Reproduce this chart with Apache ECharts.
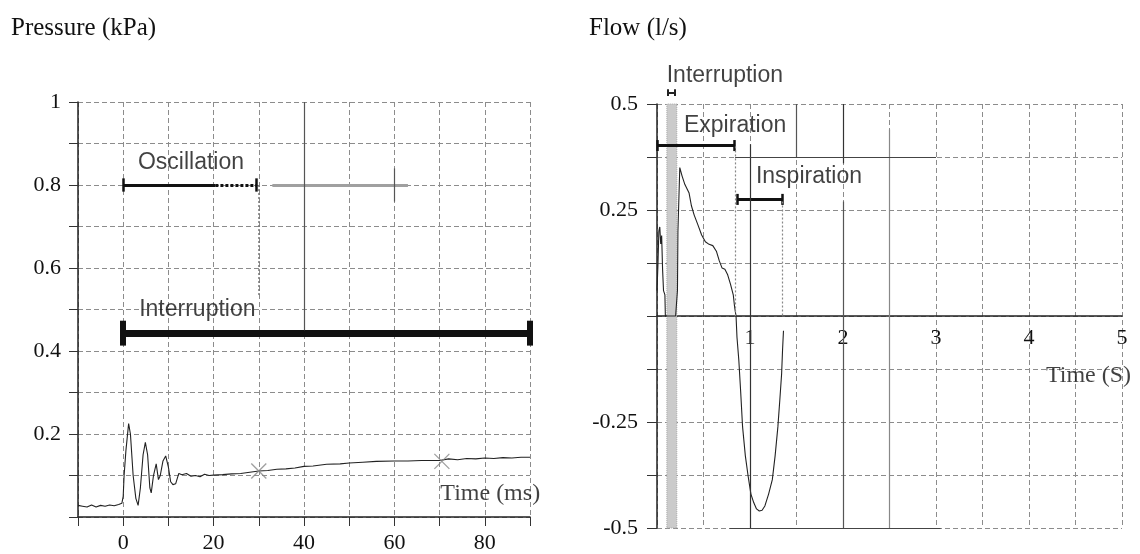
<!DOCTYPE html>
<html>
<head>
<meta charset="utf-8">
<script src="https://cdn.jsdelivr.net/npm/echarts@6/dist/echarts.min.js"></script>
<style>
html,body{margin:0;padding:0;background:#fff;}
#c{width:1140px;height:554px;}
</style>
</head>
<body>
<div id="c"></div>
<script>
// ---------- Left panel: pressure (kPa) vs time (ms) ----------
const pressureTime = [-10,-9,-8,-7,-6,-5,-4,-3,-2,-1,-0.3,0,0.2,0.6,1.2,1.6,2.2,2.8,3.3,3.8,4.4,4.9,5.4,5.9,6.2,6.7,7.3,7.8,8.2,8.8,9.4,10,10.5,11,11.6,12.3,13,14,15,16,17,18,19,20,22,24,26,28,30,32,34,36,38,40,42,45,48,50,53,56,60,63,66,70,72,74,76,78,80,82,84,86,88,90];
const pressureValue = [0.028,0.026,0.024,0.029,0.024,0.028,0.026,0.029,0.027,0.03,0.033,0.05,0.1,0.16,0.225,0.2,0.1,0.045,0.028,0.07,0.15,0.18,0.15,0.07,0.058,0.1,0.128,0.09,0.1,0.135,0.147,0.12,0.085,0.078,0.08,0.105,0.102,0.105,0.098,0.1,0.097,0.103,0.1,0.101,0.102,0.104,0.105,0.108,0.111,0.112,0.115,0.116,0.118,0.122,0.123,0.127,0.128,0.13,0.132,0.134,0.135,0.135,0.136,0.136,0.14,0.138,0.141,0.14,0.142,0.141,0.143,0.142,0.144,0.144];
const pressureMarkers = [[30,0.111],[70.5,0.134]];
const pressureXTicks = [0,20,40,60,80];
const pressureYTicks = [0.2,0.4,0.6,0.8,1];

// annotation bars (time ms, kPa)
const oscY = 0.8, oscStart = 0, oscSolidEnd = 20.4, oscEnd = 29.5;
const oscGhost = [33, 63];
const intY = 0.443, intStart = 0, intEnd = 90;
const leftGuides = [[30, 0.8, 30, 0.53]];
const leftDark = [[40, 1.0, 40, 0.45], [60, 0.84, 60, 0.76]];
const leftTexts = [["Oscillation", 15.0, 0.854], ["Interruption", 16.4, 0.499]];
const leftAxisText = ["Time (ms)", 81.2, 0.057];

// ---------- Right panel: flow (l/s) vs time (s) ----------
const flowTime = [0,0.01,0.02,0.03,0.04,0.05,0.06,0.07,0.085,0.09,0.1,0.2,0.22,0.225,0.245,0.27,0.3,0.345,0.37,0.4,0.44,0.48,0.52,0.56,0.6,0.64,0.67,0.7,0.73,0.76,0.79,0.82,0.835,0.85,0.86,0.88,0.9,0.92,0.95,0.98,1.01,1.04,1.07,1.1,1.13,1.16,1.2,1.24,1.27,1.3,1.32,1.34,1.35,1.36];
const flowValue = [0.06,0.12,0.2,0.21,0.17,0.19,0.11,0.06,0.05,0,0,0,0.06,0.2,0.35,0.33,0.31,0.29,0.26,0.238,0.215,0.191,0.175,0.169,0.166,0.152,0.13,0.113,0.11,0.097,0.075,0.05,0.02,0,-0.05,-0.105,-0.18,-0.261,-0.33,-0.378,-0.42,-0.44,-0.455,-0.46,-0.458,-0.448,-0.42,-0.386,-0.33,-0.261,-0.2,-0.136,-0.08,-0.035];
const flowXTicks = [1,2,3,4,5];
const flowYTicks = [-0.5,-0.25,0.25,0.5];

const bandFrom = 0.106, bandTo = 0.213;
const intMarkY = 0.527, intMarkFrom = 0.12, intMarkTo = 0.19;
const expY = 0.402, expFrom = 0.004, expTo = 0.835;
const inspY = 0.275, inspFrom = 0.868, inspTo = 1.347;
const rightGuides = [[0.84, 0.4, 0.84, 0], [1.35, 0.27, 1.35, 0]];
const rightDark = [[1, 0.405, 1, -0.5, '#333'], [1.5, 0.5, 1.5, 0.375, '#555'], [2, 0.5, 2, 0.36, '#333'], [2, 0.27, 2, -0.5, '#555'], [2.5, 0.44, 2.5, -0.5, '#888'], [0.84, 0.375, 3, 0.375, '#444'], [0.78, -0.5, 3.05, -0.5, '#444']];
const rightTexts = [["Interruption", 0.73, 0.568], ["Expiration", 0.84, 0.45], ["Inspiration", 1.634, 0.328]];
const rightAxisText = ["Time (S)", 4.64, -0.14];

// ---------- build ----------
const near = (v, arr) => arr.some(t => Math.abs(v - t) < 1e-9);
const serif = 'Liberation Serif';
const sans = 'Liberation Sans';
const ink = '#111';
const gridLine = {show: true, lineStyle: {color: '#8c8c8c', type: [5, 3], width: 1}};
const rightGridHeight = 424;

function seg(x1, y1, x2, y2, color, width, type) {
  return {coords: [[x1, y1], [x2, y2]], lineStyle: {color: color, width: width, type: type || 'solid', opacity: 1}};
}
function bar(y, from, to, capH, color, w, capW) {
  return [seg(from, y, to, y, color, w), seg(from, y - capH, from, y + capH, color, capW), seg(to, y - capH, to, y + capH, color, capW)];
}
function linesSeries(ax, data, z) {
  return {type: 'lines', coordinateSystem: 'cartesian2d', xAxisIndex: ax, yAxisIndex: ax, polyline: false, clip: false, silent: true, z: z || 4, effect: {show: false}, data: data};
}
function textSeries(ax, items, font, size) {
  return {type: 'scatter', xAxisIndex: ax, yAxisIndex: ax, clip: false, silent: true, z: 10, symbolSize: 1, itemStyle: {color: 'transparent'},
    label: {show: true, position: 'inside', formatter: p => p.name, fontFamily: font, fontSize: size, color: ink},
    data: items.map(t => ({name: t[0], value: [t[1], t[2]]}))};
}

const leftLines = [].concat(
  [seg(oscStart, oscY, oscSolidEnd, oscY, '#111', 3), seg(oscSolidEnd, oscY, oscEnd, oscY, '#111', 3, [3, 2]),
   seg(oscStart, oscY - 0.016, oscStart, oscY + 0.016, '#111', 2.5), seg(oscEnd, oscY - 0.016, oscEnd, oscY + 0.016, '#111', 2.5),
   seg(oscGhost[0], oscY, oscGhost[1], oscY, '#a0a0a0', 3)],
  bar(intY, intStart, intEnd, 0.03, '#111', 7, 6),
  leftGuides.map(g => seg(g[0], g[1], g[2], g[3], '#777', 1.5, [2, 2])),
  leftDark.map(g => seg(g[0], g[1], g[2], g[3], '#555', 1.2))
);
const rightLines = [].concat(
  bar(intMarkY, intMarkFrom, intMarkTo, 0.008, '#222', 2, 2),
  bar(expY, expFrom, expTo, 0.013, '#111', 3, 2.5),
  bar(inspY, inspFrom, inspTo, 0.013, '#111', 3, 2.5),
  rightGuides.map(g => seg(g[0], g[1], g[2], g[3], '#888', 1.2, [2, 2])),
  rightDark.map(g => seg(g[0], g[1], g[2], g[3], g[4], 1.2))
);

const option = {
  animation: false,
  backgroundColor: '#fff',
  title: [
    {text: 'Pressure (kPa)', left: 6, top: 11, textStyle: {fontFamily: serif, fontSize: 25, fontWeight: 'normal', color: ink}},
    {text: 'Flow (l/s)', left: 584, top: 11, textStyle: {fontFamily: serif, fontSize: 25, fontWeight: 'normal', color: ink}}
  ],
  grid: [
    {left: 78, top: 102, width: 452, height: 419},
    {left: 657, top: 104, width: 465, height: rightGridHeight}
  ],
  xAxis: [
    {type: 'value', gridIndex: 0, min: -10, max: 90, interval: 10,
     axisLine: {onZero: false, lineStyle: {color: '#222', width: 1.5}},
     axisTick: {show: true, inside: false, length: 9, lineStyle: {color: '#333'}},
     axisLabel: {margin: 15, fontFamily: serif, fontSize: 22, color: ink, showMinLabel: true, showMaxLabel: true,
       formatter: v => near(v, pressureXTicks) ? String(Math.round(v)) : ''},
     splitLine: gridLine},
    {type: 'value', gridIndex: 1, min: 0, max: 5, interval: 0.5, position: 'bottom', offset: -rightGridHeight / 2,
     axisLine: {onZero: false, lineStyle: {color: '#222', width: 1.5}},
     axisTick: {show: false},
     axisLabel: {margin: 11, fontFamily: serif, fontSize: 22, color: ink, showMinLabel: true, showMaxLabel: true,
       formatter: v => near(v, flowXTicks) ? String(Math.round(v)) : ''},
     splitLine: gridLine}
  ],
  yAxis: [
    {type: 'value', gridIndex: 0, min: 0, max: 1, interval: 0.1,
     axisLine: {show: true, onZero: false, lineStyle: {color: '#222', width: 1.5}},
     axisTick: {show: true, inside: false, length: 9, lineStyle: {color: '#333'}},
     axisLabel: {margin: 17, fontFamily: serif, fontSize: 22, color: ink, showMinLabel: true, showMaxLabel: true,
       formatter: v => near(v, pressureYTicks) ? String(+v.toFixed(1)) : ''},
     splitLine: gridLine},
    {type: 'value', gridIndex: 1, min: -0.5, max: 0.5, interval: 0.125,
     axisLine: {show: true, onZero: false, lineStyle: {color: '#222', width: 1.5}},
     axisTick: {show: true, inside: false, length: 10, lineStyle: {color: '#333'}},
     axisLabel: {margin: 19, fontFamily: serif, fontSize: 22, color: ink, showMinLabel: true, showMaxLabel: true,
       formatter: v => near(v, flowYTicks) ? String(+v.toFixed(2)) : ''},
     splitLine: gridLine}
  ],
  series: [
    {type: 'line', xAxisIndex: 0, yAxisIndex: 0, showSymbol: false, z: 3,
     lineStyle: {color: '#222', width: 1.1},
     data: pressureTime.map((t, i) => [t, pressureValue[i]])},
    {type: 'scatter', xAxisIndex: 0, yAxisIndex: 0, z: 3,
     symbol: 'path://M0,0L10,10M10,0L0,10', symbolSize: 15,
     itemStyle: {color: 'transparent', borderColor: '#888', borderWidth: 1.3},
     data: pressureMarkers},
    linesSeries(0, leftLines, 4),
    textSeries(0, leftTexts, sans, 23),
    textSeries(0, [leftAxisText], serif, 24),

    {type: 'line', xAxisIndex: 1, yAxisIndex: 1, showSymbol: false, z: 3,
     lineStyle: {color: '#222', width: 1.1},
     data: flowTime.map((t, i) => [t, flowValue[i]])},
    {type: 'line', xAxisIndex: 1, yAxisIndex: 1, showSymbol: false, z: 6, data: [], silent: true,
     markArea: {silent: true, itemStyle: {color: '#cbcbcb', borderColor: '#a8a8a8', borderWidth: 1, borderType: 'dotted'},
       data: [[{coord: [bandFrom, -0.5]}, {coord: [bandTo, 0.52]}]]}},
    linesSeries(1, rightLines, 7),
    textSeries(1, rightTexts, sans, 23),
    textSeries(1, [rightAxisText], serif, 24)
  ]
};
const chart = echarts.init(document.getElementById('c'), null, {renderer: 'canvas'});
chart.setOption(option);
</script>
</body>
</html>
